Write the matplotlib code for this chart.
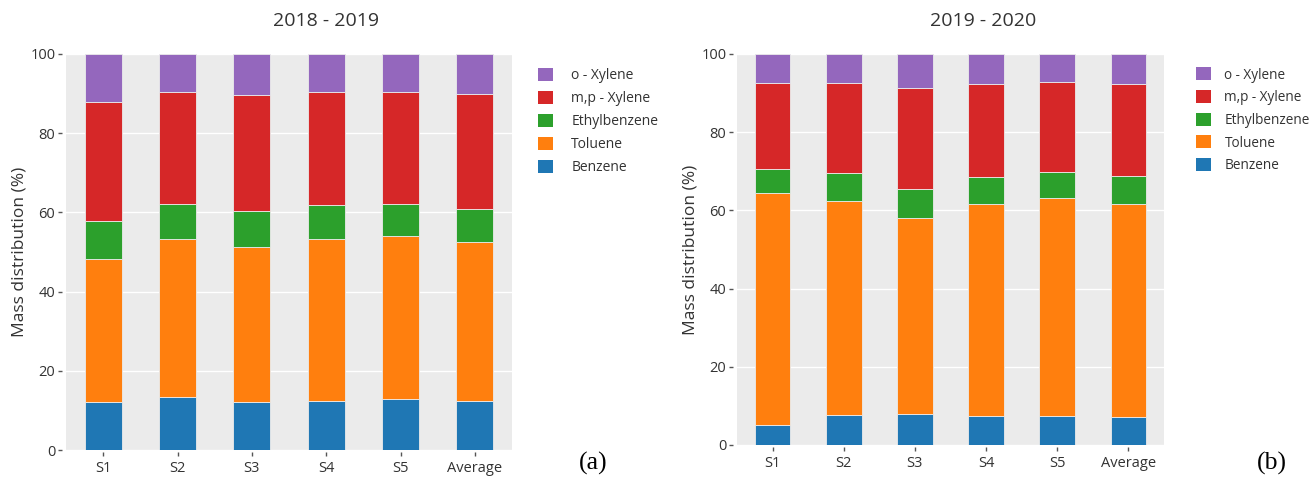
import matplotlib
matplotlib.use("Agg")
import matplotlib.pyplot as plt
from matplotlib.patches import Patch
import numpy as np

plt.rcParams['font.family'] = ['Open Sans', 'DejaVu Sans']

categories = ["S1", "S2", "S3", "S4", "S5", "Average"]
species = ["Benzene", "Toluene", "Ethylbenzene", "m,p - Xylene", "o - Xylene"]
colors = ["#1f77b4", "#ff7f0e", "#2ca02c", "#d62728", "#9467bd"]

# 2018 - 2019 (mass %)
benzene_a = [12.1, 13.3, 12.1, 12.4, 13.0, 12.4]
toluene_a = [36.2, 40.1, 39.1, 41.0, 41.0, 40.1]
ethylbenzene_a = [9.5, 8.8, 9.1, 8.5, 8.2, 8.3]
mpxylene_a = [30.0, 28.1, 29.3, 28.4, 28.1, 29.2]
oxylene_a = [12.2, 9.7, 10.4, 9.7, 9.7, 10.0]

# 2019 - 2020 (mass %)
benzene_b = [5.1, 7.7, 8.0, 7.3, 7.3, 7.1]
toluene_b = [59.3, 54.7, 50.1, 54.3, 55.8, 54.5]
ethylbenzene_b = [6.2, 7.2, 7.5, 6.9, 6.8, 7.1]
mpxylene_b = [22.0, 23.0, 25.6, 23.7, 22.9, 23.5]
oxylene_b = [7.4, 7.4, 8.8, 7.8, 7.2, 7.8]

data_a = [benzene_a, toluene_a, ethylbenzene_a, mpxylene_a, oxylene_a]
data_b = [benzene_b, toluene_b, ethylbenzene_b, mpxylene_b, oxylene_b]

W, H = 1312, 478
fig = plt.figure(figsize=(W / 100, H / 100), dpi=100)
ax1 = fig.add_axes([66/W, 1-450/H, 446/W, 396/H])
ax2 = fig.add_axes([737/W, 1-445/H, 427/W, 391/H])

def draw(ax, data, legend_x, textpad, legend_fs):
    x = np.arange(len(categories))
    bottom = np.zeros(len(categories))
    for vals, c, name in zip(data, colors, species):
        ax.bar(x, vals, 0.5, bottom=bottom, color=c, edgecolor='#ebebeb',
               linewidth=0.6, label=name, zorder=3)
        bottom += np.array(vals)
    ax.set_facecolor('#ebebeb')
    ax.set_xlim(-0.5, len(categories) - 0.5)
    ax.set_ylim(0, 100)
    ax.set_yticks([0, 20, 40, 60, 80, 100])
    ax.set_xticks(x)
    ax.set_xticklabels(categories)
    ax.yaxis.grid(True, color='white', linewidth=1.0, zorder=0)
    ax.set_axisbelow(True)
    for s in ax.spines.values():
        s.set_visible(False)
    ax.spines['left'].set_position(('outward', 3))
    ax.spines['bottom'].set_position(('outward', 1.5))
    ax.tick_params(axis='both', colors='#555555', labelcolor='#333333',
                   labelsize=10.5, length=3.2, width=1)
    ax.tick_params(axis='y', pad=1.5)
    ax.tick_params(axis='x', pad=3.5)
    ax.set_ylabel("Mass distribution (%)", fontsize=12.5, color='#333333', labelpad=2)
    handles = [Patch(facecolor=c, edgecolor='none') for c in colors][::-1]
    labels = species[::-1]
    ax.legend(handles, labels, loc='upper left', bbox_to_anchor=(legend_x, 0.997),
              frameon=False, fontsize=legend_fs, handlelength=1.1, handleheight=1.1,
              handletextpad=textpad, labelspacing=0.55, labelcolor='#333333',
              borderaxespad=0.5)

draw(ax1, data_a, 1.03, 1.3, 10)
draw(ax2, data_b, 1.046, 1.0, 9.8)

fig.text(326/W, 1-21/H, "2018 - 2019", ha='center', va='center',
         fontsize=14, color='#333333')
fig.text(983/W, 1-21/H, "2019 - 2020", ha='center', va='center',
         fontsize=14, color='#333333')
fig.text(593/W, 1-463/H, "(a)", ha='center', va='center',
         fontsize=18.5, family=['Liberation Serif', 'DejaVu Serif'], color='black')
fig.text(1272/W, 1-463/H, "(b)", ha='center', va='center',
         fontsize=18.5, family=['Liberation Serif', 'DejaVu Serif'], color='black')

fig.savefig("out.png", dpi=100, facecolor='white')
